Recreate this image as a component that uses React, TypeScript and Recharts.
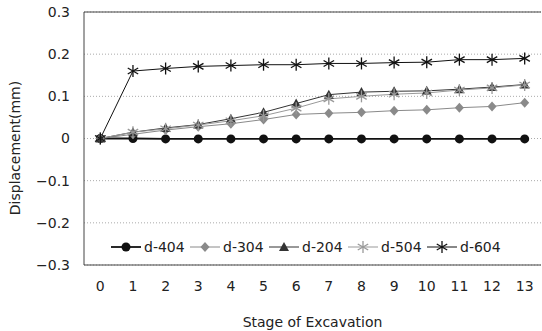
import React from "react";
import { CartesianGrid, Label, Line, LineChart, ReferenceLine, XAxis, YAxis } from "recharts";

const stages = [0, 1, 2, 3, 4, 5, 6, 7, 8, 9, 10, 11, 12, 13];
const d404 = [0, 0, -0.001, -0.001, -0.001, -0.001, -0.001, -0.001, -0.001, -0.001, -0.001, -0.001, -0.001, -0.001];
const d304 = [0, 0.01, 0.02, 0.028, 0.035, 0.045, 0.057, 0.06, 0.062, 0.066, 0.068, 0.073, 0.076, 0.085];
const d204 = [0, 0.015, 0.025, 0.033, 0.047, 0.062, 0.083, 0.104, 0.11, 0.112, 0.113, 0.117, 0.122, 0.128];
const d504 = [0, 0.015, 0.023, 0.032, 0.042, 0.054, 0.072, 0.094, 0.1, 0.105, 0.108, 0.115, 0.12, 0.127];
const d604 = [0, 0.16, 0.166, 0.171, 0.173, 0.175, 0.175, 0.178, 0.178, 0.18, 0.181, 0.187, 0.187, 0.19];
const yTicks = [-0.3, -0.2, -0.1, 0, 0.1, 0.2, 0.3];

const FONT = "'DejaVu Sans', Arial, sans-serif";

type MarkerKind = "circle" | "diamond" | "triangle" | "star";

const series: { key: string; name: string; values: number[]; color: string; width: number; marker: MarkerKind }[] = [
  { key: "d404", name: "d-404", values: d404, color: "#111", width: 1.8, marker: "circle" },
  { key: "d304", name: "d-304", values: d304, color: "#8a8a8a", width: 1, marker: "diamond" },
  { key: "d204", name: "d-204", values: d204, color: "#333", width: 1, marker: "triangle" },
  { key: "d504", name: "d-504", values: d504, color: "#999", width: 1, marker: "star" },
  { key: "d604", name: "d-604", values: d604, color: "#111", width: 1, marker: "star" }
];

const data = stages.map((s, i) => {
  const row: Record<string, number> = { stage: s };
  series.forEach((sr) => (row[sr.key] = sr.values[i]));
  return row;
});

function Marker({ kind, cx, cy, color }: { kind: MarkerKind; cx: number; cy: number; color: string }) {
  if (kind === "circle") return <circle cx={cx} cy={cy} r={4.5} fill={color} />;
  if (kind === "diamond")
    return <polygon points={`${cx},${cy - 5} ${cx + 4.5},${cy} ${cx},${cy + 5} ${cx - 4.5},${cy}`} fill={color} />;
  if (kind === "triangle")
    return <polygon points={`${cx},${cy - 5} ${cx + 5},${cy + 4} ${cx - 5},${cy + 4}`} fill={color} />;
  const r = 6;
  return (
    <g stroke={color} strokeWidth={1.3}>
      <line x1={cx} y1={cy - r} x2={cx} y2={cy + r} />
      <line x1={cx - r * 0.87} y1={cy - r * 0.5} x2={cx + r * 0.87} y2={cy + r * 0.5} />
      <line x1={cx - r * 0.87} y1={cy + r * 0.5} x2={cx + r * 0.87} y2={cy - r * 0.5} />
    </g>
  );
}

function ChartLegend() {
  return (
    <div style={{ position: "absolute", left: 110, top: 238, display: "flex", fontFamily: FONT, fontSize: 14, color: "#222" }}>
      {series.map((s) => (
        <div key={s.key} style={{ display: "flex", alignItems: "center", width: 79, height: 18 }}>
          <svg width={32} height={18}>
            <line x1={1} y1={9} x2={31} y2={9} stroke={s.color} strokeWidth={s.width} />
            <Marker kind={s.marker} cx={16} cy={9} color={s.color} />
          </svg>
          <span style={{ marginLeft: 2 }}>{s.name}</span>
        </div>
      ))}
    </div>
  );
}

const fmt = (v: number) => (v < 0 ? "\u2212" + Math.abs(v).toFixed(1) : v === 0 ? "0" : v.toFixed(1));

export default function App() {
  return (
    <div style={{ position: "absolute", left: 0, top: 0, width: 542, height: 331, background: "#fff" }}>
      <LineChart width={542} height={331} data={data} margin={{ top: 12, right: 1, bottom: 0, left: 0 }}>
        <CartesianGrid vertical={false} stroke="#aaa" strokeDasharray="1 2" />
        <XAxis
          dataKey="stage"
          type="number"
          domain={[-0.5, 13.5]}
          ticks={stages}
          height={66}
          axisLine={{ stroke: "#444" }}
          tickLine={false}
          tickMargin={10}
          tick={{ fontSize: 14, fill: "#222", fontFamily: FONT }}
        >
          <Label value="Stage of Excavation" position="insideBottom" offset={4} style={{ fontSize: 14, fill: "#222", fontFamily: FONT }} />
        </XAxis>
        <YAxis
          type="number"
          domain={[-0.3, 0.3]}
          ticks={yTicks}
          width={84}
          axisLine={{ stroke: "#444" }}
          tickLine={false}
          tickMargin={8}
          tickFormatter={fmt}
          tick={{ fontSize: 14, fill: "#222", fontFamily: FONT }}
        >
          <Label
            content={() => (
              <text x={15} y={148} transform="rotate(-90 15 148)" textAnchor="middle" dominantBaseline="central" fontSize={14} fill="#222" fontFamily={FONT}>
                Displacement(mm)
              </text>
            )}
          />
        </YAxis>
        <ReferenceLine y={0.3} stroke="#444" />
        {series.map((s) => (
          <Line
            key={s.key}
            dataKey={s.key}
            name={s.name}
            type="linear"
            stroke={s.color}
            strokeWidth={s.width}
            isAnimationActive={false}
            dot={(p: any) => <Marker key={`${s.key}-${p.index}`} kind={s.marker} cx={p.cx} cy={p.cy} color={s.color} />}
            activeDot={false}
          />
        ))}
      </LineChart>
      <ChartLegend />
    </div>
  );
}
